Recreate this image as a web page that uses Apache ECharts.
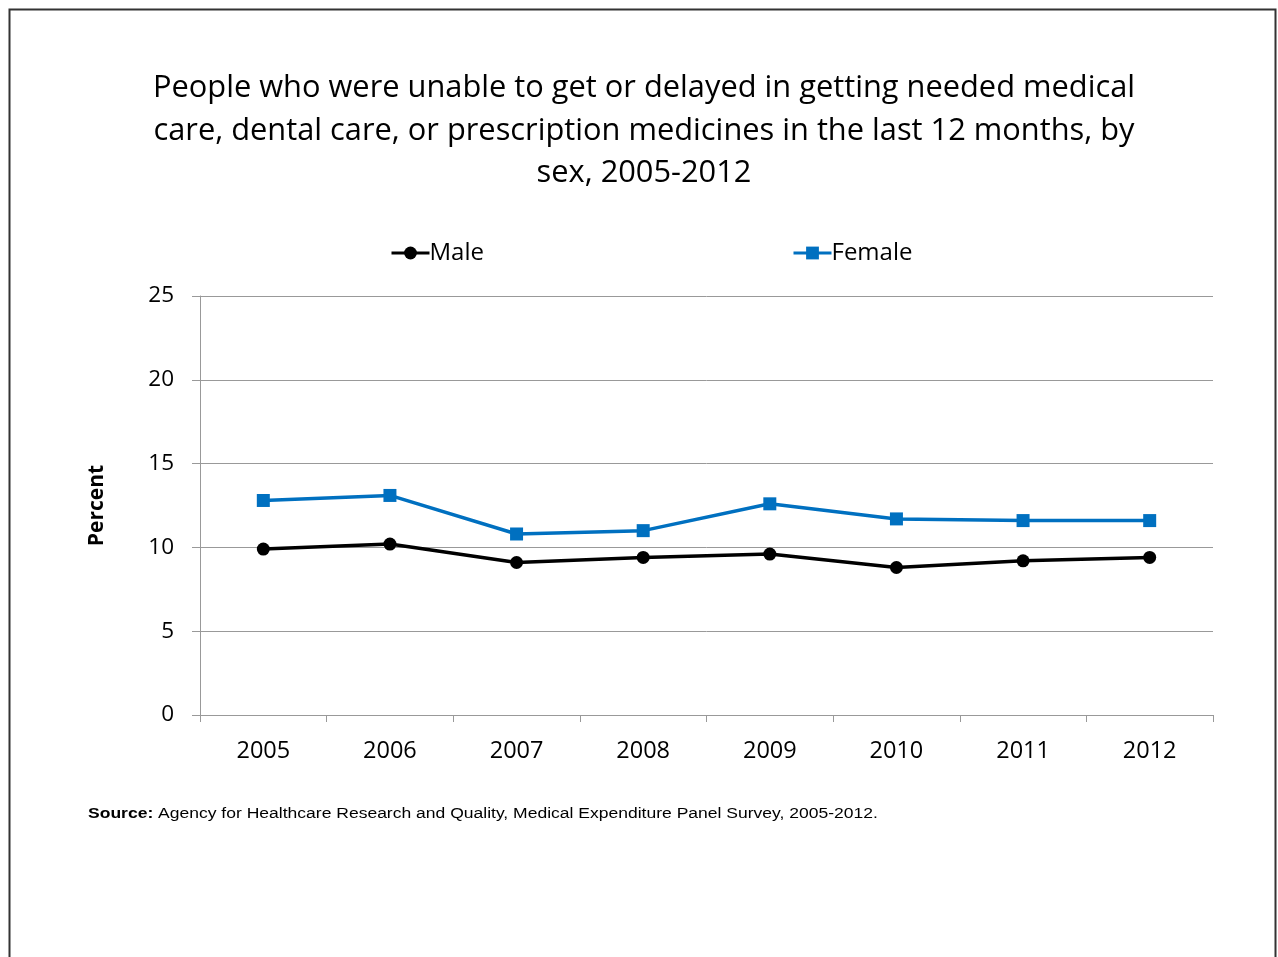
<!DOCTYPE html>
<html><head><meta charset="utf-8">
<script src="https://cdn.jsdelivr.net/npm/echarts@6/dist/echarts.min.js"></script>
<style>html,body{margin:0;padding:0;background:#fff}#c{width:1278px;height:957px}</style>
</head><body><div id="c"></div>
<script>
const years = ['2005','2006','2007','2008','2009','2010','2011','2012'];
const male = [9.9, 10.2, 9.1, 9.4, 9.6, 8.8, 9.2, 9.4];
const female = [12.8, 13.1, 10.8, 11.0, 12.6, 11.7, 11.6, 11.6];
const yTicks = [0, 5, 10, 15, 20, 25];
const titleLines = ['People who were unable to get or delayed in getting needed medical',
  'care, dental care, or prescription medicines in the last 12 months, by',
  'sex, 2005-2012'];

const chart = echarts.init(document.getElementById('c'), null, {renderer:'canvas'});
const font = '"Open Sans", sans-serif';
chart.setOption({
  animation:false,
  backgroundColor:'#fff',
  legend:[
    {data:['Male'],left:390,top:241,padding:0,itemWidth:38,itemHeight:16,itemGap:2,
      lineStyle:{width:3},
      textStyle:{fontFamily:font,fontSize:24,color:'#000',padding:[0,0,0,-5]}},
    {data:['Female'],left:792,top:241,padding:0,itemWidth:38,itemHeight:16,itemGap:2,
      lineStyle:{width:3},
      textStyle:{fontFamily:font,fontSize:24,color:'#000',padding:[0,0,0,-5]}}
  ],
  grid:{left:200,right:65,top:296,bottom:242,containLabel:false},
  xAxis:{type:'category',data:years,boundaryGap:true,
    axisLine:{lineStyle:{color:'#999',width:1}},
    axisTick:{show:true,length:7,inside:false,alignWithLabel:false,lineStyle:{color:'#999'}},
    axisLabel:{fontFamily:font,fontSize:23.5,color:'#000',margin:24}},
  yAxis:{type:'value',min:yTicks[0],max:yTicks[yTicks.length-1],interval:5,
    name:'Percent',nameLocation:'middle',nameGap:92,nameRotate:90,
    nameTextStyle:{fontFamily:font,fontSize:21,fontWeight:'bold',color:'#000'},
    axisLine:{show:true,lineStyle:{color:'#999',width:1}},
    axisTick:{show:true,length:8,lineStyle:{color:'#999'}},
    splitLine:{lineStyle:{color:'#999',width:1}},
    axisLabel:{fontFamily:font,fontSize:22.5,color:'#000',margin:26}},
  series:[
    {name:'Male',type:'line',data:male,symbol:'circle',symbolSize:13,
      lineStyle:{color:'#000',width:3.5},itemStyle:{color:'#000'}},
    {name:'Female',type:'line',data:female,symbol:'rect',symbolSize:13,
      lineStyle:{color:'#0070C0',width:3.5},itemStyle:{color:'#0070C0'}}
  ],
  graphic:[
    {type:'rect',shape:{x:9.5,y:9.5,width:1266,height:980},
      style:{fill:'none',stroke:'#333',lineWidth:2},silent:true},
    {type:'text',x:644,y:88,style:{text:titleLines[0],align:'center',verticalAlign:'middle',
      fontFamily:font,fontSize:30.8,fill:'#000'}},
    {type:'text',x:644,y:131,style:{text:titleLines[1],align:'center',verticalAlign:'middle',
      fontFamily:font,fontSize:30.8,fill:'#000'}},
    {type:'text',x:644,y:173,style:{text:titleLines[2],align:'center',verticalAlign:'middle',
      fontFamily:font,fontSize:30.8,fill:'#000'}},
    {type:'text',x:88,y:814,scaleX:1.13,style:{
      text:'{b|Source:} Agency for Healthcare Research and Quality, Medical Expenditure Panel Survey, 2005-2012.',
      verticalAlign:'middle',
      rich:{b:{fontFamily:'"Liberation Sans", Arial, sans-serif',fontSize:15.5,fontWeight:'bold',fill:'#000'}},
      fontFamily:'"Liberation Sans", Arial, sans-serif',fontSize:15.5,fill:'#000'}}
  ]
});
</script></body></html>
